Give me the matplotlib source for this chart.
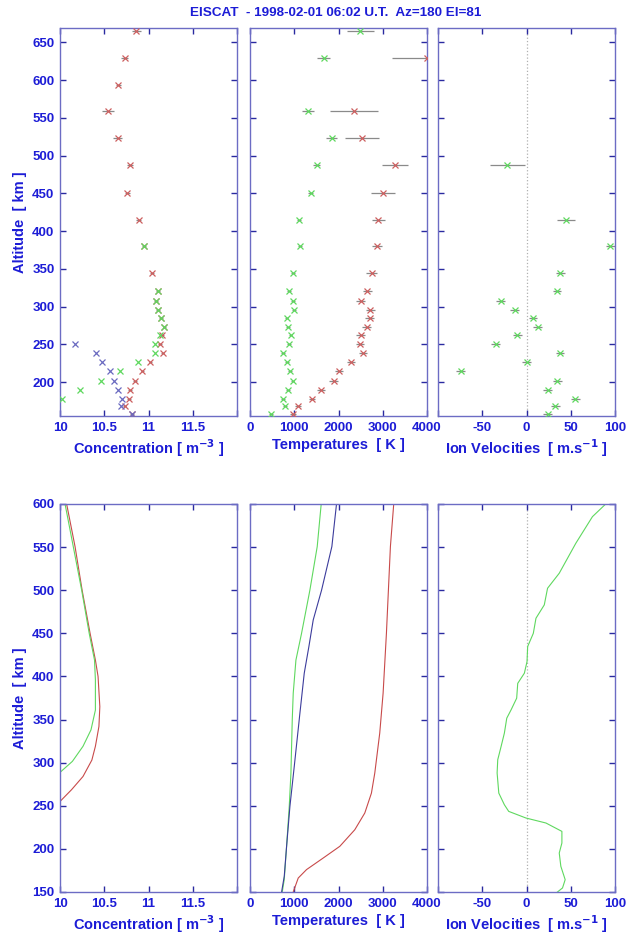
import numpy as np
import matplotlib
matplotlib.use("Agg")
import matplotlib.pyplot as plt

plt.rcParams['font.family'] = ['Liberation Sans', 'DejaVu Sans']
plt.rcParams['font.weight'] = 'bold'

nan = np.nan

# ---- measured profiles (top row) ----
alt = [665, 629, 594, 559, 523, 487, 451, 415, 380, 345, 320, 308, 296,
       285, 273, 262, 250, 238, 226, 214, 202, 190, 178, 168, 158]

ne_red = [10.86, 10.73, 10.66, 10.54, 10.65, 10.79, 10.76, 10.89, 10.95, 11.04,
          11.11, 11.085, 11.11, 11.14, 11.18, 11.15, 11.13, 11.16, 11.02, 10.93,
          10.85, 10.79, 10.78, 10.73, 10.815]
ne_red_err = [0.05, 0.04, 0.03, 0.07, 0.05, 0.03, 0.03, 0.03, 0.02, 0.02, 0.02,
              0.02, 0.02, 0.02, 0.02, 0.02, 0.02, 0.02, 0.02, 0.02, 0.02, 0.02,
              0.02, 0.02, 0.02]
ne_green = [nan, nan, nan, nan, nan, nan, nan, nan, 10.95, nan, 11.11, 11.085,
            11.11, 11.14, 11.18, 11.13, 11.07, 11.07, 10.88, 10.68, 10.46, 10.23,
            10.02, nan, nan]
ne_blue = [nan] * 16 + [10.165, 10.41, 10.48, 10.56, 10.61, 10.65, 10.70, 10.69, 10.815]

te = [nan, 3990, nan, 2351, 2526, 3274, 3009, 2896, 2866, 2752, 2653, 2503, 2721,
      2707, 2639, 2503, 2488, 2556, 2277, 2019, 1891, 1603, 1399, 1082, 968]
te_err = [nan, 770, nan, 540, 380, 300, 270, 150, 120, 120, 110, 100, 100, 100,
          100, 100, 90, 90, 90, 90, 100, 100, 70, 70, 70]
ti = [2494, 1664, nan, 1315, 1845, 1505, 1369, 1104, 1134, 975, 884, 968, 998,
      825, 855, 916, 878, 741, 840, 900, 961, 855, 741, 794, 469]
ti_err = [310, 140, nan, 140, 120, 80, 60, 50, 40, 40, 40, 40, 40, 40, 40, 40,
          40, 40, 40, 40, 40, 40, 40, 40, 40]

vi = [nan, nan, nan, nan, nan, -21.5, nan, 44.5, 94.7, 38.1, 34.4, -29.1, -13.3,
      7.4, 12.6, -10.6, -34.7, 37.8, 0.2, -74.5, 34.7, 24.2, 55.0, 32.5, 24.2]
vi_err = [nan, nan, nan, nan, nan, 19.5, nan, 10, 5, 5, 5, 5, 5, 5, 5, 5, 5, 5,
          5, 5, 5, 5, 5, 5, 5]

# ---- model / fitted profiles (bottom row) ----
c_red_alt = [600, 550.6, 500, 450, 419, 400, 365, 342, 319, 303, 284, 268.6, 255]
c_red = [10.075, 10.17, 10.25, 10.34, 10.40, 10.43, 10.45, 10.44, 10.40, 10.36,
         10.26, 10.13, 10.0]
c_green_alt = [600, 550.6, 500, 450, 419, 396, 361, 338, 319, 301.5, 288.7]
c_green = [10.057, 10.15, 10.245, 10.33, 10.39, 10.40, 10.40, 10.35, 10.26, 10.14, 10.0]

t_green_alt = [600, 550.6, 500, 450, 419, 380.6, 350, 288, 249.3, 203, 164.5, 150]
t_green = [1609, 1519, 1353, 1165, 1038, 977, 955, 925, 887, 827, 774, 729]
t_blue_alt = [600, 550.6, 500, 465.6, 434.7, 403.8, 357.4, 295.6, 249.3, 203, 168.2, 150]
t_blue = [1955, 1850, 1617, 1429, 1331, 1226, 1128, 1000, 902, 827, 774, 714]
t_red_alt = [600, 550.6, 450, 380.6, 334.3, 288, 264.7, 241.6, 222.2, 203, 189.4,
             176, 166.2, 150]
t_red = [3248, 3173, 3083, 3008, 2932, 2820, 2744, 2594, 2368, 2030, 1654, 1278,
         1090, 977]

v_alt = [600, 585.3, 554.4, 519.7, 502.3, 483, 467.5, 450, 434.7, 417.3, 403.8,
         392, 374.8, 361.3, 351.6, 334.3, 318.8, 303.4, 288, 264.7, 251.2, 243.5,
         235.8, 230, 220.3, 206.8, 195.2, 179.8, 164.3, 154.7, 150]
v_fit = [89.5, 74.5, 55.7, 37.0, 23.8, 20.1, 10.7, 7.7, 1.3, 0.6, -2.4, -9.9,
         -11.1, -17.4, -22.3, -25.0, -28.7, -32.5, -33.2, -31.3, -25.0, -20.1,
         -0.6, 22.0, 40.0, 40.0, 37.0, 38.8, 43.7, 40.7, 35.0]

title = "EISCAT  - 1998-02-01 06:02 U.T.  Az=180 El=81"

LBL = '#1c1cd6'
FRAME = '#6c6cc4'
TICK = '#2a2aa0'
RED = '#cc6060'
GREEN = '#5fd85f'
BLUE = '#6a6ac0'
ERR = '#8a8a8a'

fig = plt.figure(figsize=(6.28, 9.40), dpi=100)

lefts = [60 / 628, 250 / 628, 438 / 628]
w = 177 / 628
top_row = [fig.add_axes([l, 1 - 416 / 940, w, 388 / 940]) for l in lefts]
bot_row = [fig.add_axes([l, 1 - 892 / 940, w, 388 / 940]) for l in lefts]


def style(ax, xlim, xticks, xlabels, ylim, yticks, ylab):
    ax.set_xlim(xlim)
    ax.set_ylim(ylim)
    ax.set_xticks(xticks)
    ax.set_xticklabels(xlabels)
    ax.set_yticks(yticks)
    if ylab:
        ax.set_yticklabels([str(t) for t in yticks])
    else:
        ax.set_yticklabels([])
    for s in ax.spines.values():
        s.set_color(FRAME)
        s.set_linewidth(1.0)
    ax.tick_params(direction='in', top=True, right=True, length=4, width=1,
                   color=TICK, labelcolor=LBL, labelsize=9.5, pad=4)
    for t in ax.get_xticklabels() + ax.get_yticklabels():
        t.set_fontweight('bold')


def points(ax, x, y, xerr, color):
    if xerr is not None:
        ax.errorbar(x, y, xerr=xerr, fmt='none', ecolor=ERR, elinewidth=0.9,
                    capsize=0, zorder=2)
    ax.plot(x, y, 'x', color=color, ms=5, mew=0.9, zorder=3)


# top row
ax = top_row[0]
points(ax, ne_red, alt, ne_red_err, RED)
points(ax, ne_green, alt, None, GREEN)
points(ax, ne_blue, alt, None, BLUE)

ax = top_row[1]
points(ax, te, alt, te_err, RED)
points(ax, ti, alt, ti_err, GREEN)

ax = top_row[2]
ax.axvline(0, color='#b0b0b0', ls=':', lw=0.9, zorder=1)
points(ax, vi, alt, vi_err, GREEN)

# bottom row
ax = bot_row[0]
ax.plot(c_red, c_red_alt, color='#c84a4a', lw=0.8)
ax.plot(c_green, c_green_alt, color=GREEN, lw=0.8)

ax = bot_row[1]
ax.plot(t_green, t_green_alt, color=GREEN, lw=0.8)
ax.plot(t_blue, t_blue_alt, color='#3c3c9c', lw=0.8)
ax.plot(t_red, t_red_alt, color='#c84a4a', lw=0.8)

ax = bot_row[2]
ax.axvline(0, color='#b0b0b0', ls=':', lw=0.9, zorder=1)
ax.plot(v_fit, v_alt, color=GREEN, lw=0.8)

top_yt = list(range(200, 651, 50))
bot_yt = list(range(150, 601, 50))
for row, ylim, yt in [(top_row, (155, 669), top_yt), (bot_row, (150, 600), bot_yt)]:
    style(row[0], (10, 12), [10, 10.5, 11, 11.5, 12], ['10', '10.5', '11', '11.5', ''],
          ylim, yt, True)
    style(row[1], (0, 4000), [0, 1000, 2000, 3000, 4000],
          ['0', '1000', '2000', '3000', '4000'], ylim, yt, False)
    style(row[2], (-100, 100), [-100, -50, 0, 50, 100],
          ['', '-50', '0', '50', '100'], ylim, yt, False)
    row[0].set_xlabel('Concentration [ m$^{\\mathbf{-3}}$ ]', color=LBL,
                      fontsize=10.5, fontweight='bold', labelpad=3)
    row[1].set_xlabel('Temperatures  [ K ]', color=LBL, fontsize=10.5,
                      fontweight='bold', labelpad=3)
    row[2].set_xlabel('Ion Velocities  [ m.s$^{\\mathbf{-1}}$ ]', color=LBL,
                      fontsize=10.5, fontweight='bold', labelpad=3)
    row[0].set_ylabel('Altitude  [ km ]', color=LBL, fontsize=10.5,
                      fontweight='bold', labelpad=4)

fig.text(0.534, 1 - 12.5 / 940, title, ha='center', va='center', color=LBL,
         fontsize=9.7, fontweight='bold')

fig.savefig('out.png', dpi=100)
